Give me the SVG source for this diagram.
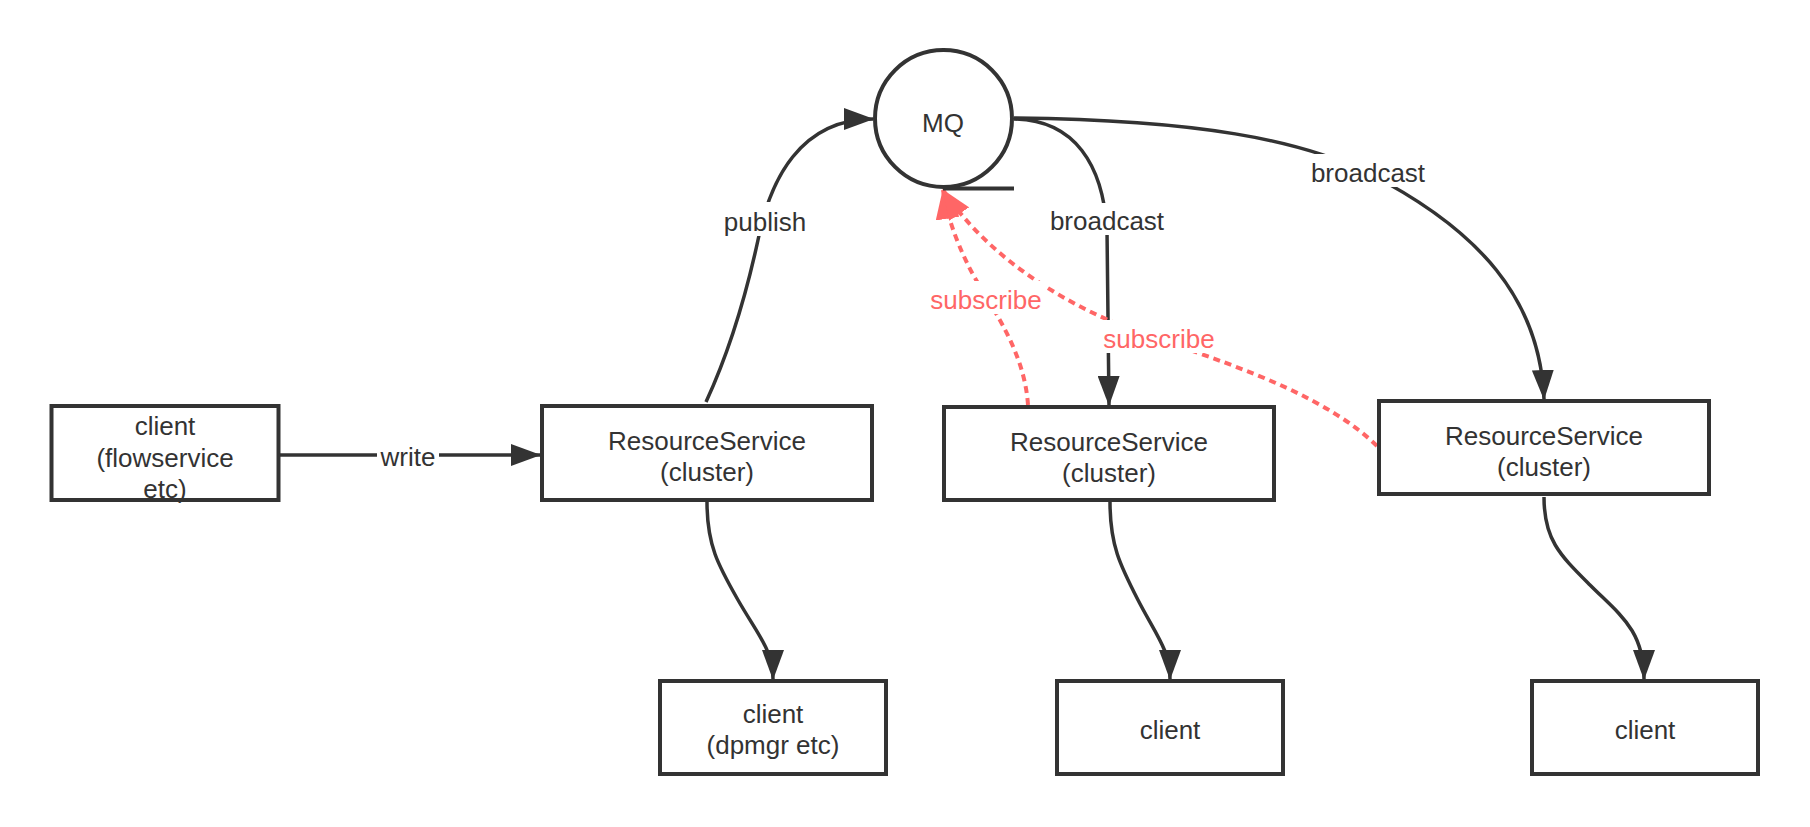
<svg xmlns="http://www.w3.org/2000/svg" width="1810" height="827" viewBox="0 0 1810 827">
<style>
.box{fill:#fff;stroke:#333;stroke-width:4}
.t{font-family:"Liberation Sans",Arial,sans-serif;font-size:26px;fill:#333;text-anchor:middle}
.edge{fill:none;stroke:#333;stroke-width:3.5}
.sub{fill:none;stroke:#ff6666;stroke-width:4;stroke-dasharray:7 5}
.lbg{fill:#fff}
.red{fill:#ff6666}
</style>
<defs>
<marker id="ah" markerUnits="userSpaceOnUse" viewBox="0 0 30 22" markerWidth="30" markerHeight="22" refX="29" refY="11" orient="auto">
<path d="M0,0 L30,11 L0,22 z" fill="#333"/>
</marker>
<marker id="ahr" markerUnits="userSpaceOnUse" viewBox="0 0 30 24" markerWidth="30" markerHeight="24" refX="29" refY="12" orient="auto">
<path d="M0,0 L30,12 L0,24 z" fill="#ff6666"/>
</marker>
</defs>
<rect width="1810" height="827" fill="#fff"/>

<g id="connectors">
<path class="edge" d="M280,455 L540,455" marker-end="url(#ah)"/>
<path class="edge" d="M706,402 C730,350 745,300 758,240 C770,180 800,119 873,119" marker-end="url(#ah)"/>
<path class="edge" d="M1014,119 C1075,120 1103,165 1107,230 L1109,405" marker-end="url(#ah)"/>
<path class="edge" d="M1014,118 C1200,120 1300,140 1368,173 C1480,230 1540,300 1544,399" marker-end="url(#ah)"/>
<path class="edge" d="M707,502 C707,545 718,565 738,600 C758,635 773,650 773,679" marker-end="url(#ah)"/>
<path class="edge" d="M1110,502 C1110,545 1120,565 1138,600 C1156,635 1170,650 1170,679" marker-end="url(#ah)"/>
<path class="edge" d="M1544,497 C1544,540 1560,555 1590,585 C1620,615 1644,630 1644,679" marker-end="url(#ah)"/>
<path class="sub" d="M1028,405 C1024,345 985,300 968,265 C955,238 947,215 943,190" marker-end="url(#ahr)"/>
<path class="sub" d="M1377,446 C1330,400 1250,370 1160,340 C1070,310 990,260 943,190" marker-end="url(#ahr)"/>

<rect class="lbg" x="377" y="442" width="62" height="28"/>
<text class="t" x="408" y="466">write</text>
<rect class="lbg" x="724" y="202" width="82" height="34"/>
<text class="t" x="765" y="231">publish</text>
<rect class="lbg" x="1045" y="203" width="124" height="32"/>
<text class="t" x="1107" y="230">broadcast</text>
<rect class="lbg" x="1306" y="154" width="124" height="33"/>
<text class="t" x="1368" y="182">broadcast</text>
<rect class="lbg" x="926" y="281" width="120" height="33"/>
<text class="t red" x="986" y="309">subscribe</text>
<rect class="lbg" x="1099" y="320" width="120" height="33"/>
<text class="t red" x="1159" y="348">subscribe</text>
</g>

<g id="mq">
<circle cx="943.5" cy="118.5" r="68.5" fill="#fff" stroke="#333" stroke-width="4"/>
<line x1="943" y1="188.5" x2="1014" y2="188.5" stroke="#333" stroke-width="4"/>
<text class="t" x="943" y="132">MQ</text>
</g>

<g id="client-flowservice">
<rect class="box" x="51.5" y="406" width="227" height="94"/>
<text class="t" x="165" y="435">client</text>
<text class="t" x="165" y="467">(flowservice</text>
<text class="t" x="165" y="498">etc)</text>
</g>

<g id="rs1">
<rect class="box" x="542" y="406" width="330" height="94"/>
<text class="t" x="707" y="450">ResourceService</text>
<text class="t" x="707" y="481">(cluster)</text>
</g>

<g id="rs2">
<rect class="box" x="944" y="407" width="330" height="93"/>
<text class="t" x="1109" y="451">ResourceService</text>
<text class="t" x="1109" y="482">(cluster)</text>
</g>

<g id="rs3">
<rect class="box" x="1379" y="401" width="330" height="93"/>
<text class="t" x="1544" y="445">ResourceService</text>
<text class="t" x="1544" y="476">(cluster)</text>
</g>

<g id="client-dpmgr">
<rect class="box" x="660" y="681" width="226" height="93"/>
<text class="t" x="773" y="723">client</text>
<text class="t" x="773" y="754">(dpmgr etc)</text>
</g>

<g id="client2">
<rect class="box" x="1057" y="681" width="226" height="93"/>
<text class="t" x="1170" y="739">client</text>
</g>

<g id="client3">
<rect class="box" x="1532" y="681" width="226" height="93"/>
<text class="t" x="1645" y="739">client</text>
</g>
</svg>
